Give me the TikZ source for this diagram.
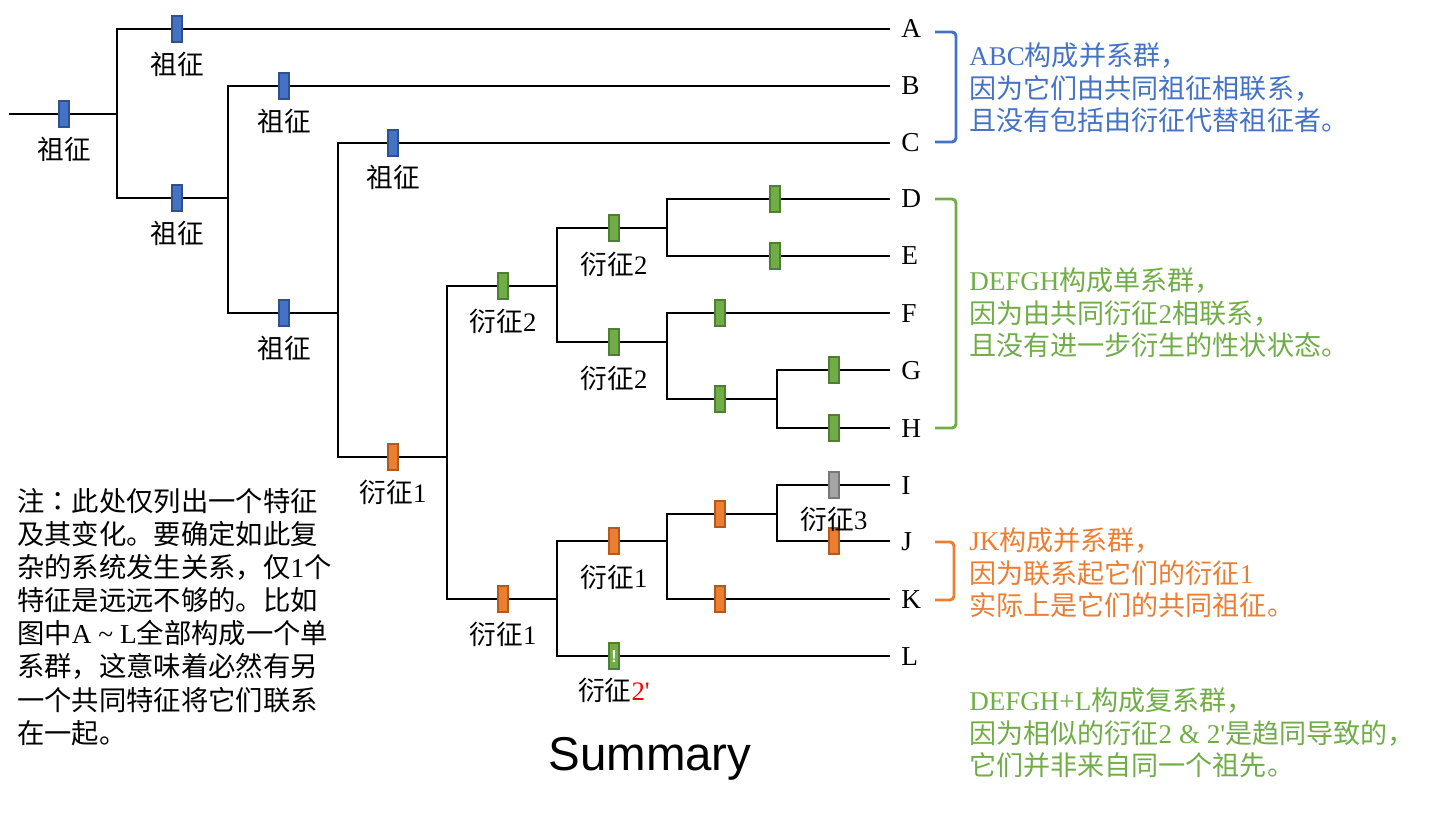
\documentclass[tikz,border=0pt]{standalone}
\usepackage{fontspec}
\setmainfont{Liberation Serif}
\newfontfamily\cjkf{Noto Sans CJK SC}
\newfontfamily\cjktc{Noto Sans CJK TC}
\newfontfamily\sumf{Liberation Sans}
\newfontfamily\rawserif{Liberation Serif}
\newcommand\zhs[1]{{\cjkf #1}}
\definecolor{mblue}{HTML}{4472C4}
\definecolor{mbluedk}{HTML}{2F528F}
\definecolor{mgreen}{HTML}{70AD47}
\definecolor{mgreendk}{HTML}{507E32}
\definecolor{morange}{HTML}{ED7D31}
\definecolor{morangedk}{HTML}{AE5A21}
\definecolor{mgrey}{HTML}{A5A5A5}
\definecolor{mgreydk}{HTML}{787878}
\begin{document}
\begin{tikzpicture}[x=0.75pt,y=-0.75pt,
  tree/.style={line width=1.7pt, black},
  mk/.style={rectangle, inner sep=0pt, minimum width=7.5pt, minimum height=19.5pt, line width=0.8pt},
  mkb/.style={mk, fill=mblue, draw=mbluedk},
  mkg/.style={mk, fill=mgreen, draw=mgreendk},
  mko/.style={mk, fill=morange, draw=morangedk},
  mkgr/.style={mk, fill=mgrey, draw=mgreydk},
  lab/.style={font=\fontsize{20}{24}\selectfont, inner sep=0pt},
  tip/.style={font=\fontsize{20.5}{24}\selectfont, inner sep=0pt, anchor=base west},
  brk/.style={line width=2.2pt, rounded corners=3pt},
  ann/.style={font=\fontsize{20.3}{24.4}\selectfont, align=left, anchor=west, inner sep=0pt},
  note/.style={font=\fontsize{20.5}{24.8}\selectfont, align=left, anchor=west, inner sep=0pt},
]
\useasboundingbox (0,0) rectangle (1440,813);

% junctions
\coordinate (r0) at (9,114);
\coordinate (n1) at (117,114);
\coordinate (n2) at (228,198);
\coordinate (n3) at (338,313);
\coordinate (n4) at (447,457);
\coordinate (n5) at (557,286);
\coordinate (n6) at (667,228);
\coordinate (n7) at (667,342);
\coordinate (n8) at (777,399);
\coordinate (n9) at (557,599);
\coordinate (n10) at (667,541);
\coordinate (n11) at (777,514);
% tip ends
\coordinate (tA) at (890,29);
\coordinate (tB) at (890,86);
\coordinate (tC) at (890,143);
\coordinate (tD) at (890,199);
\coordinate (tE) at (890,256);
\coordinate (tF) at (890,313);
\coordinate (tG) at (890,370);
\coordinate (tH) at (890,428);
\coordinate (tI) at (890,485);
\coordinate (tJ) at (890,541);
\coordinate (tK) at (890,599);
\coordinate (tL) at (890,656);

% branches
\draw[tree] (r0) -- (n1);
\draw[tree] (n1) |- (tA);
\draw[tree] (n1) |- (n2);
\draw[tree] (n2) |- (tB);
\draw[tree] (n2) |- (n3);
\draw[tree] (n3) |- (tC);
\draw[tree] (n3) |- (n4);
\draw[tree] (n4) |- (n5);
\draw[tree] (n4) |- (n9);
\draw[tree] (n5) |- (n6);
\draw[tree] (n5) |- (n7);
\draw[tree] (n6) |- (tD);
\draw[tree] (n6) |- (tE);
\draw[tree] (n7) |- (tF);
\draw[tree] (n7) |- (n8);
\draw[tree] (n8) |- (tG);
\draw[tree] (n8) |- (tH);
\draw[tree] (n9) |- (n10);
\draw[tree] (n9) |- (tL);
\draw[tree] (n10) |- (n11);
\draw[tree] (n10) |- (tK);
\draw[tree] (n11) |- (tI);
\draw[tree] (n11) |- (tJ);

% tip labels
\node[tip] (A) at (901,38) {A};
\node[tip] (B) at (901,95) {B};
\node[tip] (C) at (901,152) {C};
\node[tip] (D) at (901,208) {D};
\node[tip] (E) at (901,265) {E};
\node[tip] (F) at (901,322) {F};
\node[tip] (G) at (901,379) {G};
\node[tip] (H) at (901,437) {H};
\node[tip] (I) at (901,494) {I};
\node[tip] (J) at (901,550) {J};
\node[tip] (K) at (901,608) {K};
\node[tip] (L) at (901,665) {L};

% markers
\node[mkb] (m0) at (64,114) {};
\node[mkb] (mA) at (177,29) {};
\node[mkb] (m12) at (177,198) {};
\node[mkb] (mB) at (284,86) {};
\node[mkb] (m23) at (284,313) {};
\node[mkb] (mC) at (393,143) {};
\node[mko] (m34) at (393,457) {};
\node[mkg] (m45) at (503,286) {};
\node[mkg] (m56) at (614,228) {};
\node[mkg] (m57) at (614,342) {};
\node[mkg] (mD) at (775,199) {};
\node[mkg] (mE) at (775,256) {};
\node[mkg] (mF) at (720,313) {};
\node[mkg] (m78) at (720,399) {};
\node[mkg] (mG) at (834,370) {};
\node[mkg] (mH) at (834,428) {};
\node[mko] (m49) at (503,599) {};
\node[mko] (m910) at (614,541) {};
\node[mko] (m1011) at (720,514) {};
\node[mko] (mK) at (720,599) {};
\node[mkgr] (mI) at (834,485) {};
\node[mko] (mJ) at (834,541) {};
\node[mkg] (mL) at (614,656) {\fontsize{13}{13}\selectfont\sffamily\bfseries\color{white}!};

% marker labels
\node[lab] (l0) at (64,149) {\zhs{祖征}};
\node[lab] (lA) at (177,64) {\zhs{祖征}};
\node[lab] (l12) at (177,233) {\zhs{祖征}};
\node[lab] (lB) at (284,121) {\zhs{祖征}};
\node[lab] (l23) at (284,348) {\zhs{祖征}};
\node[lab] (lC) at (393,177) {\zhs{祖征}};
\node[lab] (l34) at (393,492) {\zhs{衍征}1};
\node[lab] (l45) at (503,321) {\zhs{衍征}2};
\node[lab] (l56) at (614,264) {\zhs{衍征}2};
\node[lab] (l57) at (614,378) {\zhs{衍征}2};
\node[lab] (l49) at (503,634) {\zhs{衍征}1};
\node[lab] (l910) at (614,577) {\zhs{衍征}1};
\node[lab] (lI) at (834,519) {\zhs{衍征}3};
\node[lab] (lL) at (614,690) {\zhs{衍征}{\rawserif\color{red}2'}};

% brackets
\draw[brk, mblue] (935,32) -- (956,32) -- (956,142) -- (935,142);
\draw[brk, mgreen] (935,199) -- (956,199) -- (956,428) -- (935,428);
\draw[brk, morange] (935,542) -- (954,542) -- (954,600) -- (935,600);

% annotations
\node[ann, text=mblue] (annABC) at (969,88) {ABC\zhs{构成并系群，}\\\zhs{因为它们由共同祖征相联系，}\\\zhs{且没有包括由衍征代替祖征者。}};
\node[ann, text=mgreen] (annDH) at (969,313) {DEFGH\zhs{构成单系群，}\\\zhs{因为由共同衍征}2\zhs{相联系，}\\\zhs{且没有进一步衍生的性状状态。}};
\node[ann, text=morange] (annJK) at (969,573) {JK\zhs{构成并系群，}\\\zhs{因为联系起它们的衍征}1\\\zhs{实际上是它们的共同祖征。}};
\node[ann, text=mgreen] (annPoly) at (969,733) {DEFGH+L\zhs{构成复系群，}\\\zhs{因为相似的衍征}2 \& {\rawserif 2'}\zhs{是趋同导致的，}\\\zhs{它们并非来自同一个祖先。}};

% note
\node[note] (note) at (17,617) {\zhs{注}{\cjktc ：}\zhs{此处仅列出一个特征}\\\zhs{及其变化。要确定如此复}\\\zhs{杂的系统发生关系，仅}1\zhs{个}\\\zhs{特征是远远不够的。比如}\\\zhs{图中}A \textasciitilde{} L\zhs{全部构成一个单}\\\zhs{系群，这意味着必然有另}\\\zhs{一个共同特征将它们联系}\\\zhs{在一起。}};

% title
\node[font=\sumf\fontsize{35.6}{40}\selectfont, anchor=base, inner sep=0pt] (summary) at (650,770) {Summary};
\end{tikzpicture}
\end{document}
